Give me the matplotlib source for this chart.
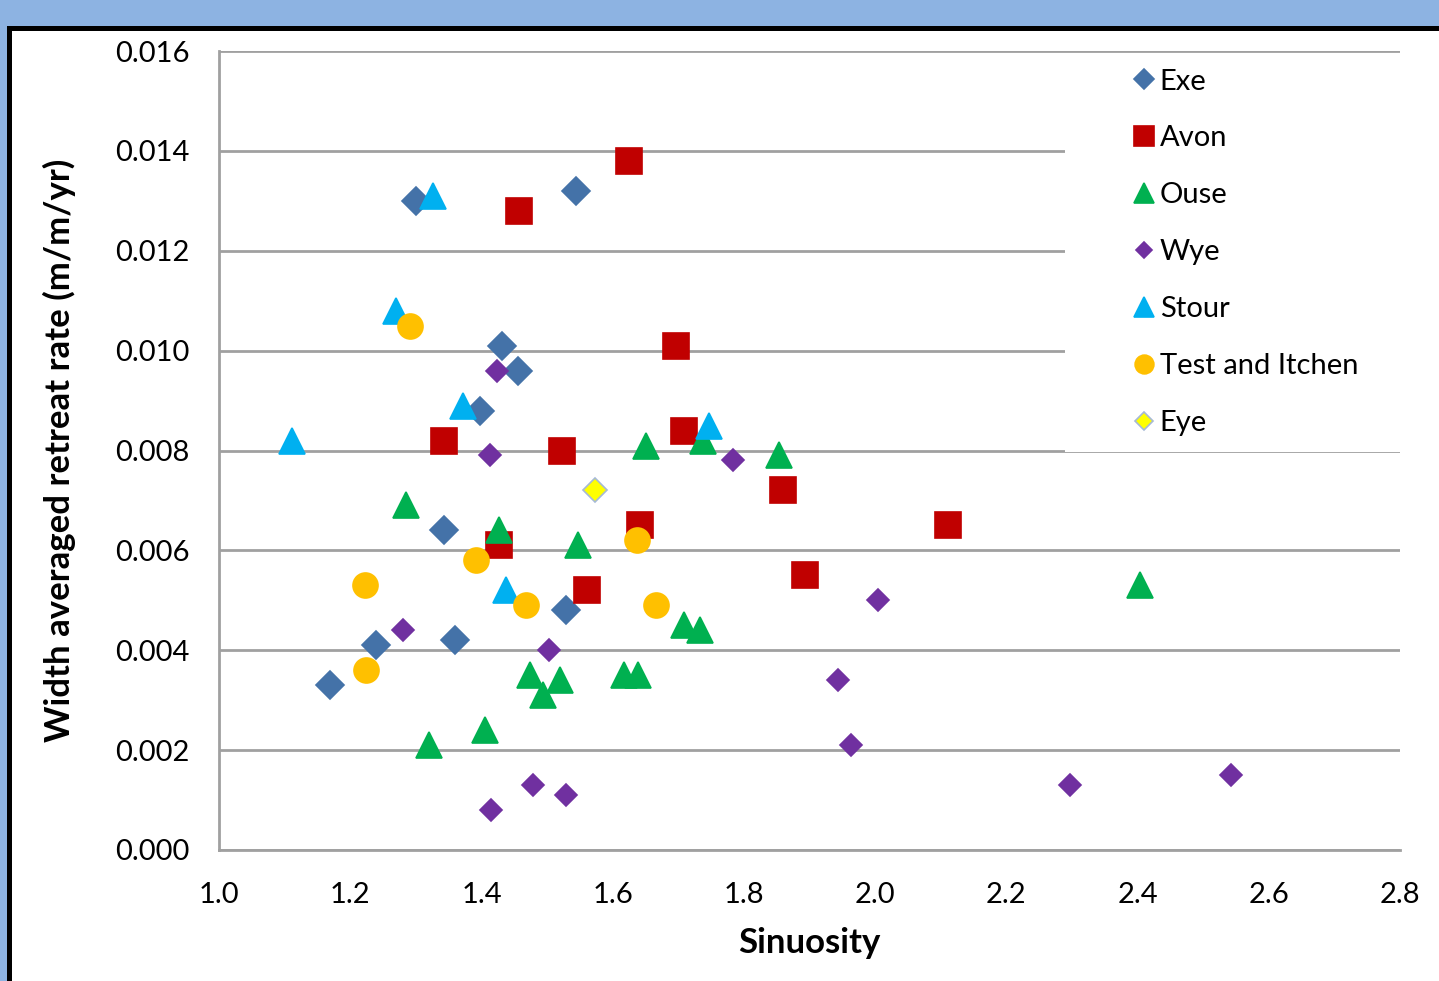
import matplotlib.pyplot as plt
from matplotlib.patches import Rectangle

# Dane: krętość (x) i tempo cofania (y)
exe_x = [1.300, 1.544, 1.431, 1.456, 1.398, 1.343, 1.529, 1.360, 1.239, 1.169]
exe_y = [0.0130, 0.0132, 0.0101, 0.0096, 0.0088, 0.0064, 0.0048, 0.0042, 0.0041, 0.0033]

avon_x = [1.625, 1.457, 1.697, 1.343, 1.523, 1.709, 1.860, 1.642, 1.427, 1.561, 1.893, 2.111]
avon_y = [0.0138, 0.0128, 0.0101, 0.0082, 0.0080, 0.0084, 0.0072, 0.0065, 0.0061, 0.0052, 0.0055, 0.0065]

ouse_x = [1.651, 1.738, 1.854, 1.285, 1.427, 1.547, 2.404, 1.709, 1.733, 1.474,
          1.520, 1.494, 1.617, 1.639, 1.405, 1.320]
ouse_y = [0.0081, 0.0082, 0.0079, 0.0069, 0.0064, 0.0061, 0.0053, 0.0045, 0.0044, 0.0035,
          0.0034, 0.0031, 0.0035, 0.0035, 0.0024, 0.0021]

wye_x = [1.424, 1.413, 1.783, 1.280, 1.503, 2.004, 1.943, 1.963, 1.479, 1.529, 1.415, 2.297, 2.542]
wye_y = [0.0096, 0.0079, 0.0078, 0.0044, 0.0040, 0.0050, 0.0034, 0.0021, 0.0013, 0.0011, 0.0008, 0.0013, 0.0015]

stour_x = [1.326, 1.270, 1.372, 1.111, 1.747, 1.437]
stour_y = [0.0131, 0.0108, 0.0089, 0.0082, 0.0085, 0.0052]

test_x = [1.291, 1.223, 1.224, 1.392, 1.468, 1.637, 1.666]
test_y = [0.0105, 0.0053, 0.0036, 0.0058, 0.0049, 0.0062, 0.0049]

eye_x = [1.573]
eye_y = [0.0072]

x_ticks = [1.0, 1.2, 1.4, 1.6, 1.8, 2.0, 2.2, 2.4, 2.6, 2.8]
y_ticks = [0.000, 0.002, 0.004, 0.006, 0.008, 0.010, 0.012, 0.014, 0.016]

plt.rcParams['font.family'] = ['Lato', 'DejaVu Sans']

W, H = 1439, 981
fig = plt.figure(figsize=(W / 100, H / 100), dpi=100)
fig.patch.set_facecolor('#8DB3E2')

# Czarna ramka i białe tło (jak w zrzucie ekranu)
fig.patches.append(Rectangle((7 / W, 0), 1, 1 - 26 / H, transform=fig.transFigure,
                             facecolor='black', edgecolor='none', zorder=-2))
fig.patches.append(Rectangle((12 / W, 0), 1, 1 - 31 / H, transform=fig.transFigure,
                             facecolor='white', edgecolor='none', zorder=-1))

ax = fig.add_axes([219 / W, 1 - 850 / H, (1400 - 219) / W, (850 - 51) / H])
ax.set_facecolor('none')

serie = [
    (exe_x, exe_y, 'Exe', 'D', 14, '#4472A8', '#4472A8'),
    (avon_x, avon_y, 'Avon', 's', 19, '#C00000', '#C00000'),
    (ouse_x, ouse_y, 'Ouse', '^', 19, '#00B050', '#00B050'),
    (wye_x, wye_y, 'Wye', 'D', 11, '#7030A0', '#7030A0'),
    (stour_x, stour_y, 'Stour', '^', 19, '#00B0F0', '#00B0F0'),
    (test_x, test_y, 'Test and Itchen', 'o', 18, '#FFC000', '#FFC000'),
    (eye_x, eye_y, 'Eye', 'D', 12, '#FFFF00', '#A6B9D6'),
]

for xs, ys, nazwa, m, ms, fc, ec in serie:
    ax.plot(xs, ys, linestyle='none', marker=m, markersize=ms, markerfacecolor=fc,
            markeredgecolor=ec, markeredgewidth=1.2, label=nazwa, zorder=3)

ax.set_xlim(1.0, 2.8)
ax.set_ylim(0, 0.016)
ax.set_xticks(x_ticks)
ax.set_yticks(y_ticks)
ax.set_xticklabels([f'{v:.1f}' for v in x_ticks])
ax.set_yticklabels([f'{v:.3f}' for v in y_ticks])
ax.tick_params(axis='both', length=0, labelsize=21, colors='black')
ax.tick_params(axis='y', pad=21)
ax.tick_params(axis='x', pad=23)

ax.grid(True, axis='y', color='#A0A0A0', linewidth=2, zorder=0)
ax.set_axisbelow(True)
for s in ['top', 'right']:
    ax.spines[s].set_visible(False)
for s in ['left', 'bottom']:
    ax.spines[s].set_color('#A0A0A0')
    ax.spines[s].set_linewidth(2)

# Białe tło legendy zasłaniające linie siatki
ax.add_patch(Rectangle(((1065 - 219) / 1181, (850 - 452) / 799), 1.01 - (1065 - 219) / 1181,
                       (452 - 55) / 799, transform=ax.transAxes, facecolor='white',
                       edgecolor='none', zorder=1, clip_on=False))

ax.legend(loc='upper left', bbox_to_anchor=((1110 - 219) / 1181, 1.0), frameon=False,
          fontsize=21, handletextpad=0.0, labelspacing=1.06, handlelength=1.1,
          markerscale=0.75, borderaxespad=0.2)

ax.set_xlabel('Sinuosity', fontsize=25, fontweight='bold', labelpad=14)
ax.set_ylabel('Width averaged retreat rate (m/m/yr)', fontsize=25, fontweight='bold', labelpad=28)

fig.savefig('out.png', dpi=100, facecolor=fig.get_facecolor())
